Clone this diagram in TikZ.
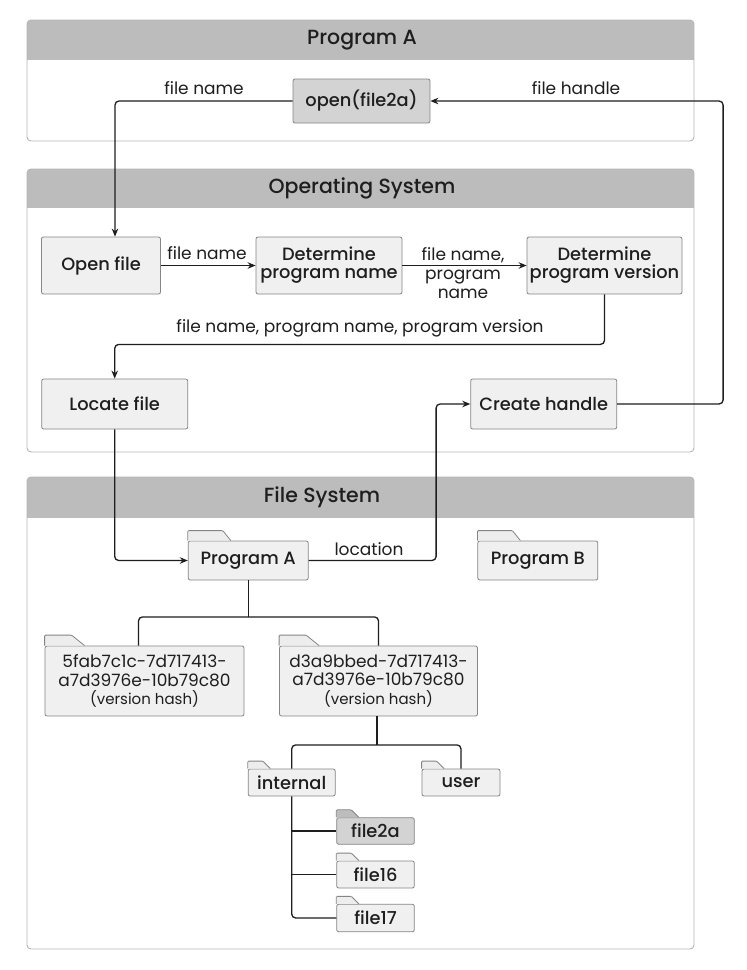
\documentclass[tikz,border=0pt]{standalone}
\usepackage{fontspec}
\setmainfont{Poppins}[BoldFont={Poppins Medium}]
\usetikzlibrary{arrows.meta}
\definecolor{hdr}{HTML}{BDBCBD}
\definecolor{pline}{HTML}{B5B5B5}
\definecolor{boxfill}{HTML}{F0F0F0}
\definecolor{boxline}{HTML}{858585}
\definecolor{dark}{HTML}{D3D3D3}
\definecolor{darktab}{HTML}{BDBDBD}
\definecolor{tabfill}{HTML}{EDEDED}
\definecolor{txt}{HTML}{1E1E1E}
\newcommand\ftab[5]{\filldraw[draw=boxline,fill=#5,line width=0.8pt,rounded corners=1pt]
  (#1.north west) -- ++(0,-#2) -- ++(#3,0) -- ++(#4,#2);}
\begin{document}
\begin{tikzpicture}[x=1pt,y=-1pt,
  box/.style={draw=boxline,fill=boxfill,line width=0.8pt,rounded corners=2pt,
    font=\fontsize{17.8}{18}\bfseries,text=txt,align=center,inner sep=0pt},
  ttl/.style={font=\fontsize{20.5}{22}\bfseries,text=txt},
  lbl/.style={font=\fontsize{17}{19}\selectfont,text=txt,align=center,inner sep=0pt},
  conn/.style={line width=1.3pt,draw=txt,rounded corners=4pt,-{Stealth[length=8pt,width=6.5pt]}},
  tree/.style={line width=1.3pt,draw=txt,rounded corners=4pt},
  panel/.style={draw=pline,line width=0.9pt,rounded corners=4pt}]
\useasboundingbox (0,0) rectangle (747,970);
% panels
\foreach \ya/\yb/\yc in {20/60/141,169/208/452,477/518/949}{
  \fill[white,rounded corners=4pt] (27,\ya) rectangle (694,\yc);
  \begin{scope}
    \clip[rounded corners=4pt] (27,\ya) rectangle (694,\yc);
    \fill[hdr] (27,\ya) rectangle (694,\yb);
  \end{scope}
  \draw[panel] (27,\ya) rectangle (694,\yc);
}
\node[ttl] (tA) at (362,40) {Program A};
\node[ttl] (tOS) at (362,188.5) {Operating System};
\node[ttl] (tFS) at (322,497.5) {File System};
% boxes
\node[box,fill=dark,minimum width=137pt,minimum height=44pt] (open) at (361.5,101) {open(file2a)};
\node[box,minimum width=119pt,minimum height=57pt] (of) at (101,265.5) {Open file};
\node[box,minimum width=146pt,minimum height=57pt] (dpn) at (329,265.5) {Determine\\program name};
\node[box,minimum width=155pt,minimum height=57pt] (dpv) at (604.5,265.5) {Determine\\program version};
\node[box,minimum width=146pt,minimum height=50pt] (loc) at (114.7,404) {Locate file};
\node[box,minimum width=146pt,minimum height=50pt] (ch) at (543.7,404) {Create handle};
% folders
\node[box,minimum width=120pt,minimum height=39pt] (pa) at (248.2,560.5) {Program A};
\node[box,minimum width=120pt,minimum height=39pt] (pb) at (537.8,560.5) {Program B};
\node[box,minimum width=199pt,minimum height=70pt,font=\fontsize{17}{18.5}\selectfont] (f5) at (144.5,681)
  {5fab7c1c-7d717413-\\a7d3976e-10b79c80\\{\fontsize{15}{18.5}\selectfont(version hash)}};
\node[box,minimum width=198pt,minimum height=70pt,font=\fontsize{17}{18.5}\selectfont] (d3) at (378.5,681)
  {d3a9bbed-7d717413-\\a7d3976e-10b79c80\\{\fontsize{15}{18.5}\selectfont(version hash)}};
\node[box,minimum width=87pt,minimum height=27pt] (int) at (291.7,782.5) {internal};
\node[box,minimum width=78pt,minimum height=27pt] (usr) at (461,782.5) {user};
\node[box,fill=dark,minimum width=77.6pt,minimum height=26.6pt] (f2a) at (375.5,831) {file2a};
\node[box,minimum width=77.6pt,minimum height=27pt] (f16) at (375.5,874.5) {file16};
\node[box,minimum width=77.6pt,minimum height=27.5pt] (f17) at (375.5,918) {file17};
\ftab{pa}{10}{35}{8}{tabfill}
\ftab{pb}{10}{35}{8}{tabfill}
\ftab{f5}{10.5}{27}{13}{tabfill}
\ftab{d3}{10.5}{27}{13}{tabfill}
\ftab{int}{7.5}{15}{7.5}{tabfill}
\ftab{usr}{7.5}{15}{7.5}{tabfill}
\ftab{f2a}{7.5}{15}{7.5}{darktab}
\ftab{f16}{7.5}{15}{7.5}{tabfill}
\ftab{f17}{7.5}{15}{7.5}{tabfill}
% labels
\node[lbl] (l1) at (204,88) {file name};
\node[lbl] (l2) at (576,88) {file handle};
\node[lbl] (l3) at (207,253) {file name};
\node[lbl,font=\fontsize{17}{19}\selectfont] (l4) at (463,273) {file name,\\program\\name};
\node[lbl] (l5) at (360,328) {file name, program name, program version};
\node[lbl] (l6) at (369,549) {location};
% connectors
\draw[conn] (open.west) -| ([xshift=14pt]of.north);
\draw[conn] (of.east) -- (dpn.west);
\draw[conn] (dpn.east) -- (dpv.west);
\draw[conn] (dpv.south) -- ++(0,50) -| (loc.north);
\draw[conn] (ch.east) -- ++(106,0) |- (open.east);
\draw[conn] (loc.south) |- (pa.west);
\draw[conn] (pa.east) -- ++(127.5,0) |- (ch.west);
% tree
\draw[tree] (pa.south) -- ++(0,36.5) coordinate (j1);
\draw[tree] ([xshift=-6pt]f5.north) |- (j1) -| (d3.north);
\draw[tree] ([xshift=-1.5pt]d3.south) -- ++(0,28.5) coordinate (j2);
\draw[tree] (int.north) |- (j2) -| (usr.north);
\draw[tree] (int.south) |- (f17.west);
\draw[tree] (int.south |- f2a.west) -- (f2a.west);
\draw[tree] (int.south |- f16.west) -- (f16.west);
\end{tikzpicture}
\end{document}
